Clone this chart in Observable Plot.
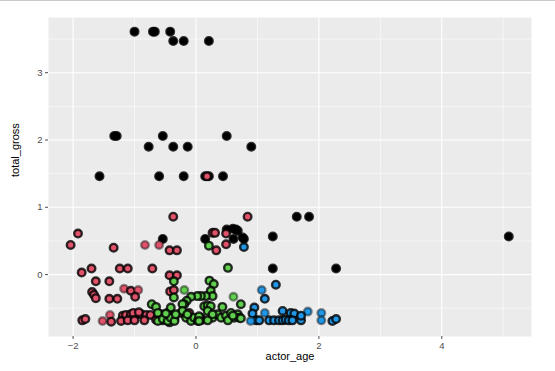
<!DOCTYPE html>
<html>
<head>
<meta charset="utf-8">
<script src="https://cdn.jsdelivr.net/npm/d3@7"></script>
<script src="https://cdn.jsdelivr.net/npm/@observablehq/plot@0.6"></script>
<style>
  html, body { margin: 0; padding: 0; background: #fff; }
  body::before { content: ""; position: fixed; left: 0; top: 0; width: 100%; height: 1px; background: #c9c9c9; }
  #chart svg { display: block; font-family: "Liberation Sans", Arial, sans-serif; }
</style>
</head>
<body>
<div id="chart"></div>
<script>
// ---- data ----
const xLabel = "actor_age";
const yLabel = "total_gross";
const xTicks = [-2, 0, 2, 4];
const yTicks = [0, 1, 2, 3];
const xMinor = [-1, 1, 3, 5];
const yMinor = [-0.5, 0.5, 1.5, 2.5, 3.5];

const groupColors = {g1: "#000000", g2: "#DF536B", g3: "#61D04F", g4: "#2297E6"};

// [actor_age, total_gross, faint(1)]
const blackPts = [
  [-1.00,3.61],[-0.70,3.61],[-0.67,3.61],[-0.42,3.61],[-0.37,3.47],[-0.20,3.47],[0.21,3.47],
  [-1.33,2.06],[-1.29,2.06],[-0.54,2.06],[0.50,2.06],
  [-0.77,1.90],[-0.37,1.90],[-0.135,1.90],[0.90,1.90],
  [-1.57,1.46],[-0.60,1.46],[-0.20,1.46],[0.15,1.46],[0.21,1.46],[0.44,1.46],
  [1.64,0.86],[1.84,0.86],
  [5.09,0.565],[1.25,0.565],[1.25,0.09],[2.28,0.09],
  [-0.54,0.53],[0.15,0.53],[0.50,0.67],[0.60,0.68],[0.65,0.67],[0.68,0.65],
  [0.61,0.53],[0.76,0.55],[0.78,0.53]
];
const redPts = [
  [0.18,1.46],[-0.37,0.86],[0.84,0.86],
  [-1.92,0.61],[-2.04,0.44],[-1.34,0.40],[-0.83,0.44,1],[-0.60,0.44,1],
  [-0.43,0.36],[-0.31,0.36],
  [0.27,0.62],[0.31,0.62],[0.49,0.61],[0.33,0.36],[0.49,0.45],
  [-1.86,0.03],[-1.70,0.09],[-1.24,0.09],[-1.11,0.09],[-0.71,0.09],
  [-0.43,-0.01],[-0.31,-0.01],
  [-1.63,-0.10],[-1.41,-0.10],
  [-1.69,-0.26],[-1.66,-0.30],[-1.63,-0.35],[-1.41,-0.36],[-1.28,-0.36],
  [-1.17,-0.21,1],[-1.06,-0.24],[-0.94,-0.23,1],[-0.99,-0.33],
  [-0.42,-0.25],[-0.36,-0.23],
  [-1.85,-0.68],[-1.80,-0.66],[-1.52,-0.69,1],[-1.40,-0.60,1],[-1.38,-0.70],
  [-1.19,-0.61],[-1.14,-0.60],[-1.06,-0.59],[-0.98,-0.60],[-0.89,-0.59],[-0.81,-0.60],[-0.74,-0.60],
  [-1.02,-0.57],[-0.93,-0.56],
  [-1.22,-0.69],[-1.11,-0.68],[-1.00,-0.68],[-0.84,-0.68],[-0.65,-0.67],[-0.61,-0.59],
  [-0.43,-0.57],[-0.24,-0.57],[-0.16,-0.59],[-0.11,-0.57],[-0.35,-0.65],[-0.54,-0.64],
  [0.08,-0.64],[-0.54,-0.68],[0.08,-0.68]
];
const greenPts = [
  [0.21,0.43],[0.52,0.10],
  [-0.36,-0.10],[-0.36,-0.34],[-0.19,-0.23,1],[0.61,-0.33,1],
  [0.22,-0.09],[0.29,-0.14],[0.24,-0.24],[0.27,-0.32],
  [0.16,-0.32],[0.08,-0.32],[0.02,-0.32],[-0.08,-0.33],[-0.15,-0.39],[-0.19,-0.44],
  [0.73,-0.44],
  [-0.72,-0.44],[-0.65,-0.48],[-0.57,-0.59],[-0.46,-0.57],[-0.43,-0.71],
  [-0.62,-0.57],[-0.41,-0.49],
  [0.135,-0.47],[0.19,-0.46],[0.24,-0.47],[0.43,-0.48],
  [-0.22,-0.44],[-0.22,-0.54],[-0.16,-0.64],
  [-0.62,-0.69],[-0.54,-0.66],[-0.46,-0.69],[-0.41,-0.64],[-0.35,-0.69],
  [-0.08,-0.69],[-0.03,-0.64],[0.03,-0.69],[0.05,-0.62],
  [0.19,-0.54],[0.27,-0.64],[0.35,-0.59],[0.41,-0.64],[0.49,-0.61],[0.57,-0.57],
  [0.62,-0.64],[0.68,-0.59],[0.70,-0.64],[0.73,-0.65],
  [0.19,-0.68],[0.27,-0.59],[0.52,-0.68],[0.60,-0.61],[0.05,-0.69],
  [-0.49,-0.58],[-0.33,-0.59],[-0.14,-0.59]
];
const bluePts = [
  [0.78,0.41],[1.30,-0.15],[1.07,-0.23,1],[1.12,-0.36],[0.95,-0.49],[1.12,-0.57,1],[0.92,-0.58],[0.98,-0.68],
  [1.41,-0.54],[1.54,-0.57],[1.60,-0.58],[1.82,-0.55,1],[2.04,-0.57,1],[2.04,-0.68,1],[2.22,-0.69],[2.28,-0.66],
  [0.89,-0.69,1],[1.03,-0.68],[1.19,-0.68],[1.27,-0.68],[1.35,-0.68],[1.41,-0.68],[1.46,-0.67],
  [1.51,-0.68],[1.57,-0.68],[1.71,-0.68],[1.71,-0.61]
];

const groups = [["g1", blackPts], ["g2", redPts], ["g3", greenPts], ["g4", bluePts]];
const rows = groups.flatMap(([g, pts]) => pts.map(([x, y, f]) => ({x, y, g, faint: !!f})));

const panelFill = "#EBEBEB";
const chart = Plot.plot({
  width: 555,
  height: 371,
  marginLeft: 48,
  marginRight: 24,
  marginTop: 17,
  marginBottom: 35,
  style: {fontFamily: "Liberation Sans, Arial, sans-serif", background: "white"},
  x: {domain: [-2.40, 5.46], label: null},
  y: {domain: [-0.92, 3.82], label: null},
  marks: [
    Plot.frame({fill: panelFill, stroke: null}),
    Plot.ruleX(xMinor, {stroke: "white", strokeWidth: 0.55}),
    Plot.ruleY(yMinor, {stroke: "white", strokeWidth: 0.55}),
    Plot.ruleX(xTicks, {stroke: "white", strokeWidth: 1.1}),
    Plot.ruleY(yTicks, {stroke: "white", strokeWidth: 1.1}),
    Plot.dot(rows, {
      x: "x", y: "y", fill: d => groupColors[d.g], r: 3.8,
      stroke: "black", strokeWidth: 2.4,
      strokeOpacity: d => d.faint ? 0.42 : 0.8
    }),
    Plot.axisX(xTicks, {tickSize: 3, tickPadding: 3, fontSize: 9.5, color: "#4D4D4D", label: null,
      tickFormat: d => d < 0 ? "\u2212" + Math.abs(d) : String(d)}),
    Plot.axisY(yTicks, {tickSize: 3, tickPadding: 3, fontSize: 9.5, color: "#4D4D4D", label: null,
      tickFormat: d => String(d)}),
    Plot.text([xLabel], {text: d => d, frameAnchor: "bottom", dy: 23, fontSize: 11, fill: "black"}),
    Plot.text([yLabel], {text: d => d, frameAnchor: "left", dx: -33, rotate: -90, fontSize: 11, fill: "black"})
  ]
});
document.getElementById("chart").appendChild(chart);
</script>
</body>
</html>
